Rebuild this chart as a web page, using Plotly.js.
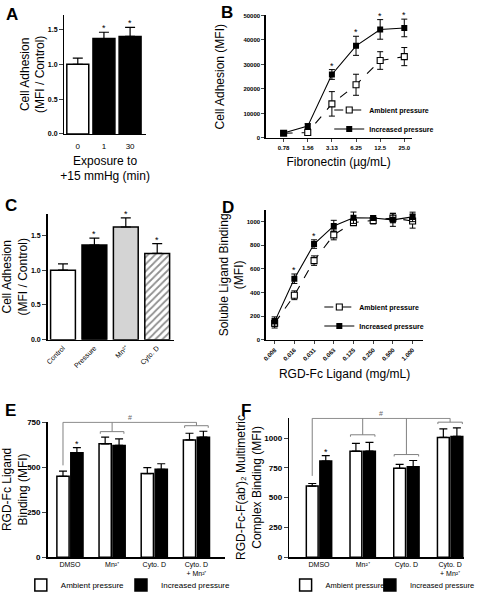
<!DOCTYPE html>
<html><head><meta charset="utf-8">
<script src="https://cdn.plot.ly/plotly-3.0.1.min.js"></script>
<style>html,body{margin:0;padding:0;background:#fff}#chart{width:480px;height:600px}</style>
</head><body><div id="chart"></div>
<script>
// ---------- Panel A ----------
const aCats = ['0', '1', '30'];
const aMeans = [1.00, 1.37, 1.40];
const aErr = [0.09, 0.09, 0.13];
const aSig = ['', '*', '*'];

// ---------- Panel B ----------
const bCats = ['0.78', '1.56', '3.13', '6.25', '12.5', '25.0'];
const bAmbient = [1900, 2200, 13900, 21700, 31600, 33200];
const bAmbientErr = [500, 900, 5000, 4300, 3600, 3700];
const bIncreased = [2000, 4800, 25900, 37600, 44300, 44900];
const bIncreasedErr = [400, 1000, 2000, 3900, 4000, 3600];
const bSig = ['', '', '*', '*', '*', '*'];

// ---------- Panel C ----------
const cCats = ['Control', 'Pressure', 'Mn²⁺', 'Cyto. D'];
const cMeans = [1.00, 1.36, 1.62, 1.24];
const cErr = [0.09, 0.10, 0.13, 0.14];
const cSig = ['', '*', '*', '*'];

// ---------- Panel D ----------
const dCats = ['0.008', '0.016', '0.031', '0.063', '0.125', '0.250', '0.500', '1.000'];
const dAmbient = [140, 377, 670, 888, 992, 1010, 1030, 1005];
const dAmbientErr = [40, 37, 40, 42, 25, 30, 40, 60];
const dIncreased = [154, 517, 810, 964, 1033, 1030, 1015, 1040];
const dIncreasedErr = [40, 40, 36, 47, 48, 20, 55, 40];
const dSig = ['', '*', '*', '', '', '', '', ''];

// ---------- Panels E / F ----------
const groupCats = ['DMSO', 'Mn²⁺', 'Cyto. D', 'Cyto. D<br>+ Mn²⁺'];
const eAmbient = [451, 632, 466, 654];
const eAmbientErr = [29, 37, 33, 37];
const eIncreased = [582, 623, 490, 669];
const eIncreasedErr = [29, 37, 31, 33];
const eSig = ['*', '', '', ''];

const fAmbient = [597, 890, 746, 1006];
const fAmbientErr = [22, 66, 33, 71];
const fIncreased = [807, 890, 760, 1014];
const fIncreasedErr = [46, 74, 52, 72];
const fSig = ['*', '', '', ''];

const seriesNames = ['Ambient pressure', 'Increased pressure'];

// bracket levels (# comparisons) for E and F
const eBracket = {top: 752, dmsoEnd: 512, groups: [[1, 700], [3, 733]]};
const fBracket = {top: 1166, dmsoEnd: 683, groups: [[1, 1028], [2, 862], [3, 1134]]};

// ---------- styling ----------
const FAM = 'Liberation Sans, Arial, sans-serif';
const idx = arr => arr.map((_, i) => i);
const errUp = (arr, w) => ({type: 'data', array: arr, arrayminus: arr.map(() => 0), symmetric: false, color: 'black', thickness: 1.2, width: w});
const errSym = (arr, w) => ({type: 'data', array: arr, color: 'black', thickness: 1, width: w});

const traces = [];
// A
traces.push({type: 'bar', x: idx(aCats), y: aMeans, width: 0.84, xaxis: 'x', yaxis: 'y', showlegend: false,
  marker: {color: ['white', 'black', 'black'], line: {color: 'black', width: 1.5}}, error_y: errUp(aErr, 5)});
// B
traces.push({type: 'scatter', mode: 'lines+markers', x: idx(bCats), y: bAmbient, xaxis: 'x2', yaxis: 'y2', name: seriesNames[0], legend: 'legend',
  line: {color: 'black', width: 1.1, dash: 'dash'}, marker: {symbol: 'square', size: 6, color: 'white', line: {color: 'black', width: 1.1}},
  error_y: errSym(bAmbientErr, 3)});
traces.push({type: 'scatter', mode: 'lines+markers', x: idx(bCats), y: bIncreased, xaxis: 'x2', yaxis: 'y2', name: seriesNames[1], legend: 'legend',
  line: {color: 'black', width: 1.1}, marker: {symbol: 'square', size: 6, color: 'black'},
  error_y: errSym(bIncreasedErr, 3)});
// C
traces.push({type: 'bar', x: idx(cCats), y: cMeans, width: 0.79, xaxis: 'x3', yaxis: 'y3', showlegend: false,
  marker: {color: ['white', 'black', '#d4d4d4', '#8f8f8f'], line: {color: 'black', width: 1.5},
    pattern: {shape: ['', '', '', '/'], fgcolor: '#e6e6e6', bgcolor: '#8f8f8f', size: 5, solidity: 0.35}},
  error_y: errUp(cErr, 5)});
// D
traces.push({type: 'scatter', mode: 'lines+markers', x: idx(dCats), y: dAmbient, xaxis: 'x4', yaxis: 'y4', name: seriesNames[0], legend: 'legend2',
  line: {color: 'black', width: 1.1, dash: 'dash'}, marker: {symbol: 'square', size: 6, color: 'white', line: {color: 'black', width: 1.1}},
  error_y: errSym(dAmbientErr, 3)});
traces.push({type: 'scatter', mode: 'lines+markers', x: idx(dCats), y: dIncreased, xaxis: 'x4', yaxis: 'y4', name: seriesNames[1], legend: 'legend2',
  line: {color: 'black', width: 1.1}, marker: {symbol: 'square', size: 6, color: 'black'},
  error_y: errSym(dIncreasedErr, 3)});
// E
traces.push({type: 'bar', x: idx(groupCats), y: eAmbient, width: 0.29, offset: -0.31, xaxis: 'x5', yaxis: 'y5', name: seriesNames[0], legend: 'legend3',
  marker: {color: 'white', line: {color: 'black', width: 1.5}}, error_y: errUp(eAmbientErr, 4)});
traces.push({type: 'bar', x: idx(groupCats), y: eIncreased, width: 0.29, offset: 0.02, xaxis: 'x5', yaxis: 'y5', name: seriesNames[1], legend: 'legend4',
  marker: {color: 'black', line: {color: 'black', width: 1.5}}, error_y: errUp(eIncreasedErr, 4)});
// F
traces.push({type: 'bar', x: idx(groupCats), y: fAmbient, width: 0.27, offset: -0.29, xaxis: 'x6', yaxis: 'y6', name: seriesNames[0], legend: 'legend5',
  marker: {color: 'white', line: {color: 'black', width: 1.5}}, error_y: errUp(fAmbientErr, 4)});
traces.push({type: 'bar', x: idx(groupCats), y: fIncreased, width: 0.27, offset: 0.02, xaxis: 'x6', yaxis: 'y6', name: seriesNames[1], legend: 'legend6',
  marker: {color: 'black', line: {color: 'black', width: 1.5}}, error_y: errUp(fIncreasedErr, 4)});

// ---------- annotations ----------
const annotations = [];
const star = (xr, yr, x, y) => annotations.push({xref: xr, yref: yr, x: x, y: y, text: '*', showarrow: false,
  yanchor: 'bottom', yshift: -3, font: {family: FAM, size: 9, color: 'black'}});
aSig.forEach((s, i) => s && star('x', 'y', i, aMeans[i] + aErr[i]));
bSig.forEach((s, i) => s && star('x2', 'y2', i, bIncreased[i] + bIncreasedErr[i]));
cSig.forEach((s, i) => s && star('x3', 'y3', i, cMeans[i] + cErr[i]));
dSig.forEach((s, i) => s && star('x4', 'y4', i, dIncreased[i] + dIncreasedErr[i]));
eSig.forEach((s, i) => s && star('x5', 'y5', i + 0.165, eIncreased[i] + eIncreasedErr[i]));
fSig.forEach((s, i) => s && star('x6', 'y6', i + 0.155, fIncreased[i] + fIncreasedErr[i]));

const letters = [['A', 4, 3], ['B', 221, 1], ['C', 3, 197], ['D', 222, 199], ['E', 3, 405], ['F', 241, 405]];
letters.forEach(([t, px, py]) => annotations.push({xref: 'paper', yref: 'paper', x: px / 480, y: 1 - py / 600,
  xanchor: 'left', yanchor: 'top', text: '<b>' + t + '</b>', showarrow: false, font: {family: FAM, size: 17, color: 'black'}}));

// ---------- bracket shapes ----------
const shapes = [];
const BR = {color: '#808080', width: 1};
function brackets(xr, yr, spec, dmsoX, half, tick) {
  const ln = (x0, y0, x1, y1) => shapes.push({type: 'line', xref: xr, yref: yr, x0, y0, x1, y1, line: BR, layer: 'above'});
  const lastX = spec.groups[spec.groups.length - 1][0];
  ln(dmsoX, spec.top, lastX, spec.top);
  ln(dmsoX, spec.top, dmsoX, spec.dmsoEnd);
  spec.groups.forEach(([gx, gy]) => {
    ln(gx, spec.top, gx, gy);
    ln(gx - half, gy, gx + half, gy);
    ln(gx - half, gy, gx - half, gy - tick);
    ln(gx + half, gy, gx + half, gy - tick);
  });
  annotations.push({xref: xr, yref: yr, x: (dmsoX + lastX) / 2, y: spec.top, text: '#', showarrow: false,
    yanchor: 'bottom', yshift: -1, font: {family: FAM, size: 7, color: '#666666'}});
}
brackets('x5', 'y5', eBracket, -0.165, 0.28, 12);
brackets('x6', 'y6', fBracket, -0.155, 0.28, 16);

// ---------- axes ----------
const axisBase = {showline: true, linecolor: 'black', linewidth: 1.5, showgrid: false, zeroline: false, fixedrange: true};
const boldTick = s => ({family: FAM, size: s, color: 'black', weight: 'bold'});
const plainTick = s => ({family: FAM, size: s, color: 'black'});
const ttl = (t, s, so) => ({text: t, standoff: so, font: {family: FAM, size: s, color: 'black'}});
const hiddenTicks = {ticks: 'outside', ticklen: 4, tickcolor: 'rgba(0,0,0,0)'};
const barLegend = (px, size) => ({orientation: 'h', x: px / 480, y: 1 - 594 / 600, xanchor: 'left', yanchor: 'middle',
  bgcolor: 'rgba(0,0,0,0)', font: {family: FAM, size: size, color: 'black'}});

const layout = {
  width: 480, height: 600, margin: {l: 0, r: 0, t: 0, b: 0},
  paper_bgcolor: 'white', plot_bgcolor: 'white',
  font: {family: FAM, color: 'black'},
  barmode: 'group',
  // A
  xaxis: Object.assign({}, axisBase, hiddenTicks, {domain: [65 / 480, 147 / 480], anchor: 'y', range: [-0.51, 2.6],
    tickvals: idx(aCats), ticktext: aCats, tickfont: plainTick(8),
    title: ttl('Exposure to<br>+15 mmHg (min)', 12, 6)}),
  yaxis: Object.assign({}, axisBase, {domain: [1 - 136 / 600, 1 - 15 / 600], anchor: 'x', range: [0, 1.711],
    dtick: 0.5, tickformat: '.1f', ticks: 'outside', ticklen: 4, tickfont: boldTick(7),
    title: ttl('Cell Adhesion<br>(MFI / Control)', 12, 0)}),
  // B
  xaxis2: Object.assign({}, axisBase, {domain: [268 / 480, 415 / 480], anchor: 'y2', range: [-0.74, 5.3],
    tickvals: idx(bCats), ticktext: bCats, ticks: 'outside', ticklen: 3, tickfont: boldTick(6),
    title: ttl('Fibronectin (µg/mL)', 12, 8)}),
  yaxis2: Object.assign({}, axisBase, {domain: [1 - 140 / 600, 1 - 15.7 / 600], anchor: 'x2', range: [0, 50000],
    dtick: 10000, tickformat: 'd', ticks: 'outside', ticklen: 3, tickfont: boldTick(6),
    title: ttl('Cell Adhesion (MFI)', 12, 16)}),
  // C
  xaxis3: Object.assign({}, axisBase, {domain: [48 / 480, 175 / 480], anchor: 'y3', range: [-0.49, 3.52],
    tickvals: idx(cCats), ticktext: cCats, ticks: '', tickangle: -45, tickfont: plainTick(7)}),
  yaxis3: Object.assign({}, axisBase, {domain: [1 - 345 / 600, 1 - 217 / 600], anchor: 'x3', range: [0, 1.81],
    dtick: 0.5, tickformat: '.1f', ticks: 'outside', ticklen: 4, tickfont: boldTick(7),
    title: ttl('Cell Adhesion<br>(MFI / Control)', 12, 3)}),
  // D
  xaxis4: Object.assign({}, axisBase, {domain: [268 / 480, 427 / 480], anchor: 'y4', range: [-0.45, 7.55],
    tickvals: idx(dCats), ticktext: dCats, ticks: 'outside', ticklen: 3, tickangle: -45, tickfont: boldTick(6),
    title: ttl('RGD-Fc Ligand (mg/mL)', 12, 8)}),
  yaxis4: Object.assign({}, axisBase, {domain: [1 - 345 / 600, 1 - 213 / 600], anchor: 'x4', range: [0, 1100],
    tickvals: [0, 200, 400, 600, 800, 1000], ticks: 'outside', ticklen: 3, tickfont: boldTick(6),
    title: ttl('Soluble Ligand Binding<br>(MFI)', 12, 0)}),
  // E
  xaxis5: Object.assign({}, axisBase, {domain: [48 / 480, 227 / 480], anchor: 'y5', range: [-0.53, 3.68],
    tickvals: idx(groupCats), ticktext: groupCats, ticks: '', tickfont: plainTick(7)}),
  yaxis5: Object.assign({}, axisBase, {domain: [1 - 565.7 / 600, 1 - 428 / 600], anchor: 'x5', range: [0, 756],
    tickvals: [0, 250, 500, 750], ticks: 'outside', ticklen: 4, tickfont: boldTick(8),
    title: ttl('RGD-Fc Ligand<br>Binding (MFI)', 12, 4)}),
  // F
  xaxis6: Object.assign({}, axisBase, {domain: [291.7 / 480, 468 / 480], anchor: 'y6', range: [-0.68, 3.32],
    tickvals: idx(groupCats), ticktext: groupCats, ticks: '', tickfont: plainTick(7)}),
  yaxis6: Object.assign({}, axisBase, {domain: [1 - 565.7 / 600, 1 - 424 / 600], anchor: 'x6', range: [0, 1172],
    tickvals: [0, 250, 500, 750, 1000], ticks: 'outside', ticklen: 4, tickfont: boldTick(8),
    title: ttl("RGD-Fc-F(ab')₂ Multimetric<br>Complex Binding (MFI)", 12, 0)}),
  legend: {x: 332 / 480, y: 1 - 97 / 600, xanchor: 'left', yanchor: 'top', bgcolor: 'rgba(0,0,0,0)',
    font: {family: FAM, size: 7, color: 'black', weight: 'bold'}, itemwidth: 30, tracegroupgap: 0},
  legend2: {x: 322 / 480, y: 1 - 297 / 600, xanchor: 'left', yanchor: 'top', bgcolor: 'rgba(0,0,0,0)',
    font: {family: FAM, size: 7, color: 'black', weight: 'bold'}, itemwidth: 30, tracegroupgap: 0},
  legend3: barLegend(21, 8),
  legend4: barLegend(122, 8),
  legend5: barLegend(288, 7.5),
  legend6: barLegend(373, 7.5),
  annotations: annotations,
  shapes: shapes
};

Plotly.newPlot('chart', traces, layout, {staticPlot: true, displayModeBar: false});
</script>
</body></html>
